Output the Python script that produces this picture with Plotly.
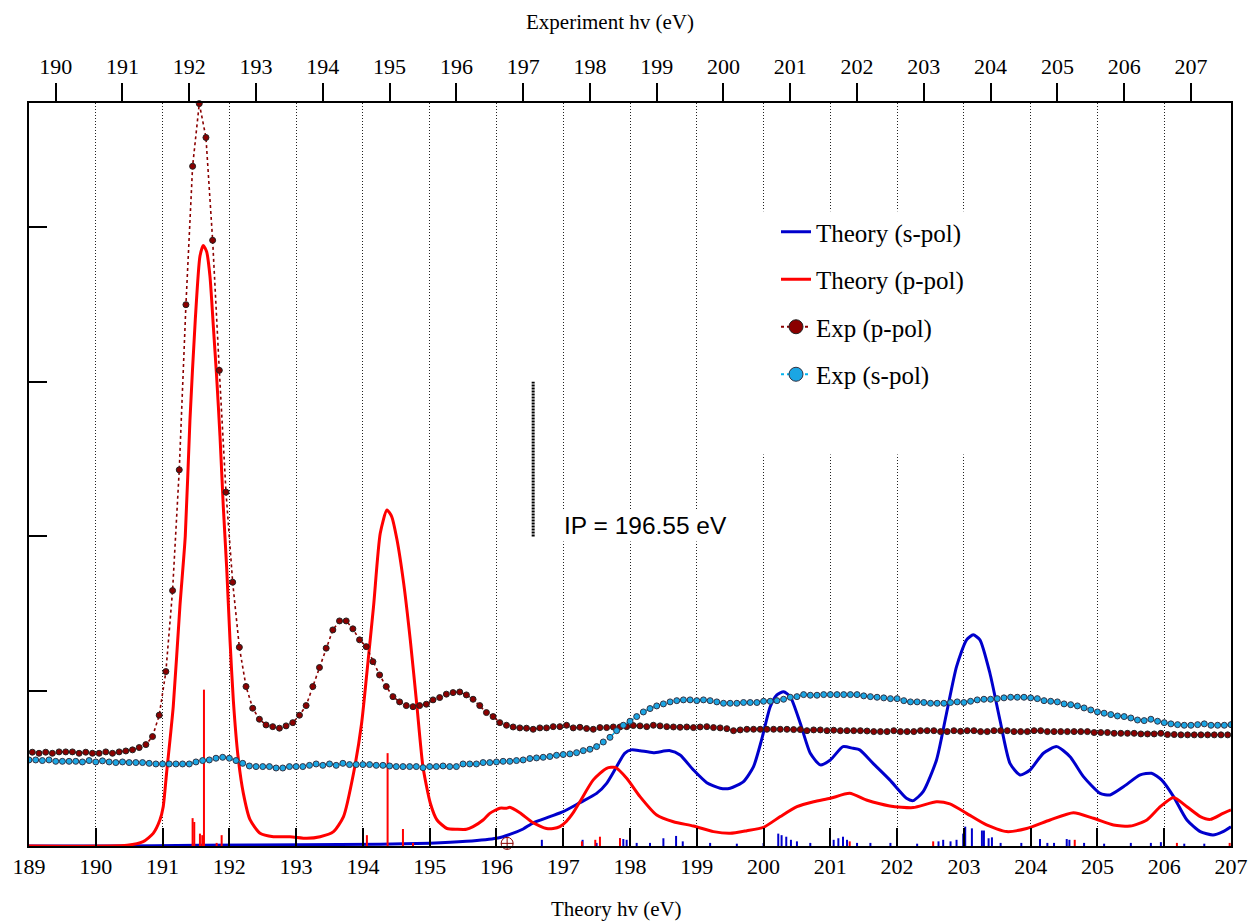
import plotly.graph_objects as go

# ---------------- data ----------------
theory_ticks = list(range(189, 208))
exp_ticks = list(range(190, 208))
EXP_SHIFT = 0.6          # experiment hv = theory hv + shift (top axis)
IP_VALUE = 196.55
IP_LABEL = "IP = 196.55 eV"

theory_s_x = [189.0, 190.17, 191.56, 193.06, 194.26, 195.00, 195.55, 196.00, 196.20, 196.40,
              196.55, 196.80, 197.00, 197.25, 197.50, 197.65, 197.80, 197.92, 198.02, 198.15,
              198.35, 198.60, 198.75, 198.95, 199.15, 199.35, 199.50, 199.70, 199.85, 199.97,
              200.10, 200.20, 200.30, 200.40, 200.55, 200.70, 200.85, 201.00, 201.19, 201.34,
              201.44, 201.64, 201.89, 202.14, 202.24, 202.39, 202.59, 202.74, 202.89, 203.04,
              203.14, 203.24, 203.39, 203.54, 203.69, 203.84, 203.99, 204.19, 204.39, 204.59,
              204.79, 205.04, 205.19, 205.39, 205.64, 205.81, 205.96, 206.14, 206.34, 206.54,
              206.73, 206.88, 207.00]
theory_s_y = [0.0, 0.0, 0.005, 0.008, 0.012, 0.018, 0.03, 0.05, 0.075, 0.11,
              0.15, 0.19, 0.222, 0.28, 0.34, 0.405, 0.513, 0.599, 0.621, 0.616,
              0.603, 0.616, 0.588, 0.491, 0.409, 0.373, 0.373, 0.416, 0.513, 0.685,
              0.900, 0.976, 0.997, 0.965, 0.793, 0.599, 0.524, 0.556, 0.642, 0.631,
              0.621, 0.534, 0.427, 0.308, 0.293, 0.351, 0.556, 0.858, 1.159, 1.332,
              1.364, 1.332, 1.116, 0.814, 0.534, 0.459, 0.491, 0.599, 0.642, 0.577,
              0.448, 0.340, 0.330, 0.383, 0.459, 0.470, 0.427, 0.319, 0.168, 0.093,
              0.071, 0.093, 0.125]

theory_p_x = [189.0, 190.47, 190.71, 190.86, 190.96, 191.01, 191.06, 191.16, 191.26, 191.34,
              191.41, 191.49, 191.56, 191.61, 191.66, 191.71, 191.76, 191.81, 191.86, 191.91,
              191.96, 192.01, 192.06, 192.13, 192.21, 192.31, 192.46, 192.66, 192.91, 193.16,
              193.36, 193.56, 193.71, 193.86, 193.98, 194.06, 194.16, 194.26, 194.36, 194.43,
              194.51, 194.61, 194.71, 194.81, 194.90, 195.01, 195.11, 195.26, 195.41, 195.55,
              195.65, 195.80, 195.90, 196.05, 196.15, 196.20, 196.35, 196.55, 196.75, 196.85,
              196.95, 197.05, 197.15, 197.25, 197.45, 197.65, 197.78, 197.95, 198.15, 198.40,
              198.65, 198.95, 199.25, 199.50, 199.75, 200.00, 200.25, 200.50, 200.75, 201.00,
              201.29, 201.54, 201.89, 202.24, 202.59, 202.79, 203.04, 203.34, 203.64, 203.94,
              204.29, 204.64, 204.94, 205.24, 205.49, 205.74, 205.94, 206.14, 206.34, 206.54,
              206.69, 206.88, 207.00]
theory_p_y = [0.0, 0.005, 0.028, 0.082, 0.168, 0.254, 0.47, 0.90, 1.55, 2.00,
              2.75, 3.40, 3.81, 3.88, 3.84, 3.68, 3.36, 3.03, 2.65, 2.19,
              1.80, 1.33, 0.94, 0.58, 0.34, 0.17, 0.082, 0.06, 0.06, 0.05,
              0.06, 0.093, 0.19, 0.47, 0.79, 1.12, 1.55, 2.02, 2.17, 2.13,
              1.98, 1.70, 1.33, 0.90, 0.51, 0.276, 0.168, 0.113, 0.108, 0.108,
              0.125, 0.168, 0.211, 0.244, 0.244, 0.25, 0.215, 0.15, 0.113, 0.113,
              0.125, 0.160, 0.215, 0.286, 0.427, 0.502, 0.508, 0.438, 0.319, 0.200,
              0.157, 0.129, 0.093, 0.082, 0.099, 0.121, 0.190, 0.254, 0.286, 0.308,
              0.340, 0.297, 0.259, 0.248, 0.286, 0.272, 0.211, 0.136, 0.093, 0.113,
              0.168, 0.215, 0.179, 0.136, 0.129, 0.168, 0.254, 0.314, 0.254, 0.19,
              0.172, 0.211, 0.233]

# experiment spectra, sampled every 0.1 eV on the experiment energy scale
exp_p_start, exp_p_step = 189.65, 0.1
exp_p_y = [0.606, 0.599, 0.606, 0.599, 0.608, 0.608, 0.608, 0.599, 0.606, 0.599,
           0.599, 0.608, 0.599, 0.608, 0.614, 0.621, 0.636, 0.655, 0.707, 0.845,
           1.127, 1.650, 2.430, 3.497, 4.391, 4.796, 4.577, 3.913, 3.073, 2.286,
           1.704, 1.284, 1.030, 0.890, 0.819, 0.782, 0.771, 0.761, 0.776, 0.797,
           0.845, 0.907, 1.030, 1.153, 1.278, 1.396, 1.454, 1.454, 1.403, 1.332,
           1.288, 1.191, 1.105, 1.030, 0.965, 0.931, 0.907, 0.900, 0.907, 0.916,
           0.944, 0.959, 0.981, 0.991, 0.995, 0.976, 0.948, 0.907, 0.862, 0.836,
           0.797, 0.780, 0.769, 0.763, 0.761, 0.754, 0.763, 0.763, 0.771, 0.771,
           0.780, 0.763, 0.767, 0.759, 0.754, 0.765, 0.765, 0.769, 0.769, 0.771,
           0.778, 0.776, 0.771, 0.780, 0.776, 0.771, 0.769, 0.767, 0.769, 0.765,
           0.769, 0.771, 0.765, 0.763, 0.758, 0.745, 0.750, 0.754, 0.754, 0.754,
           0.754, 0.754, 0.754, 0.754, 0.752, 0.752, 0.745, 0.750, 0.750, 0.745,
           0.748, 0.745, 0.745, 0.745, 0.745, 0.743, 0.739, 0.739, 0.739, 0.745,
           0.739, 0.739, 0.739, 0.745, 0.745, 0.745, 0.739, 0.739, 0.745, 0.741,
           0.745, 0.745, 0.739, 0.739, 0.745, 0.745, 0.745, 0.739, 0.739, 0.739,
           0.745, 0.745, 0.739, 0.739, 0.739, 0.739, 0.739, 0.739, 0.739, 0.733,
           0.733, 0.733, 0.728, 0.728, 0.728, 0.728, 0.724, 0.724, 0.724, 0.728,
           0.720, 0.720, 0.718, 0.718, 0.718, 0.718, 0.718, 0.718, 0.718, 0.718]

exp_s_start, exp_s_step = 189.6, 0.1
exp_s_y = [0.556, 0.556, 0.552, 0.556, 0.547, 0.547, 0.547, 0.547, 0.543, 0.552,
           0.543, 0.550, 0.543, 0.539, 0.543, 0.539, 0.539, 0.539, 0.534, 0.530,
           0.530, 0.530, 0.530, 0.530, 0.530, 0.543, 0.552, 0.556, 0.567, 0.573,
           0.567, 0.552, 0.534, 0.517, 0.513, 0.513, 0.513, 0.504, 0.504, 0.513,
           0.513, 0.513, 0.521, 0.530, 0.521, 0.530, 0.521, 0.534, 0.526, 0.526,
           0.526, 0.526, 0.521, 0.521, 0.517, 0.513, 0.513, 0.513, 0.513, 0.506,
           0.513, 0.513, 0.517, 0.513, 0.513, 0.530, 0.530, 0.530, 0.539, 0.539,
           0.543, 0.547, 0.547, 0.552, 0.556, 0.565, 0.569, 0.573, 0.578, 0.586,
           0.591, 0.595, 0.603, 0.616, 0.625, 0.642, 0.672, 0.702, 0.745, 0.780,
           0.806, 0.836, 0.866, 0.888, 0.905, 0.918, 0.931, 0.939, 0.944, 0.944,
           0.939, 0.944, 0.939, 0.931, 0.922, 0.922, 0.922, 0.927, 0.927, 0.927,
           0.935, 0.935, 0.939, 0.948, 0.961, 0.965, 0.978, 0.974, 0.974, 0.978,
           0.978, 0.978, 0.978, 0.978, 0.978, 0.970, 0.965, 0.961, 0.957, 0.952,
           0.952, 0.939, 0.931, 0.931, 0.927, 0.922, 0.922, 0.922, 0.927, 0.931,
           0.927, 0.935, 0.944, 0.948, 0.948, 0.952, 0.957, 0.961, 0.961, 0.961,
           0.957, 0.952, 0.939, 0.935, 0.931, 0.918, 0.913, 0.905, 0.892, 0.879,
           0.866, 0.858, 0.849, 0.840, 0.836, 0.827, 0.814, 0.810, 0.819, 0.806,
           0.797, 0.789, 0.784, 0.780, 0.780, 0.784, 0.789, 0.780, 0.780, 0.780,
           0.784]

# oscillator-strength sticks (theory energy, height)
stick_p_x = [191.45, 191.475, 191.56, 191.595, 191.62, 191.81, 191.885, 194.06, 194.37,
             194.60, 194.75, 197.28, 197.48, 197.55, 197.85, 201.29, 202.54, 204.66,
             206.19, 206.98]
stick_p_h = [0.18, 0.155, 0.08, 0.07, 1.01, 0.02, 0.07, 0.07, 0.60,
             0.11, 0.02, 0.03, 0.04, 0.06, 0.05, 0.03, 0.03, 0.04,
             0.02, 0.02]
stick_s_x = [196.68, 197.29, 197.50, 197.85, 197.90, 197.95, 198.10, 198.30, 198.50, 198.69,
             198.79, 199.20, 199.60, 200.00, 200.22, 200.27, 200.34, 200.41, 200.50, 200.70,
             201.05, 201.12, 201.19, 201.25, 201.40, 201.60, 201.90, 202.30, 202.62, 202.69,
             202.80, 202.89, 202.99, 203.02, 203.12, 203.27, 203.30, 203.37, 203.42, 203.55,
             203.86, 204.14, 204.25, 204.35, 204.54, 204.58, 204.80, 205.10, 205.50, 205.80,
             205.95, 206.30, 206.60]
stick_s_h = [0.04, 0.04, 0.02, 0.05, 0.045, 0.04, 0.02, 0.02, 0.05, 0.065,
             0.03, 0.02, 0.015, 0.02, 0.08, 0.07, 0.06, 0.04, 0.03, 0.02,
             0.04, 0.05, 0.06, 0.04, 0.02, 0.02, 0.02, 0.015, 0.03, 0.04,
             0.03, 0.04, 0.08, 0.125, 0.114, 0.10, 0.10, 0.05, 0.056, 0.02,
             0.02, 0.045, 0.02, 0.02, 0.045, 0.04, 0.02, 0.015, 0.02, 0.02,
             0.025, 0.015, 0.015]

cursor_x, cursor_y = 196.16, 0.017

# ---------------- build ----------------
exp_p_x = [round(exp_p_start + i * exp_p_step, 3) for i in range(len(exp_p_y))]
exp_s_x = [round(exp_s_start + i * exp_s_step, 3) for i in range(len(exp_s_y))]


def sticks(xs, hs):
    sx, sy = [], []
    for x, h in zip(xs, hs):
        sx += [x, x, None]
        sy += [0, h, None]
    return sx, sy


C_PEXP = "#8B0000"
C_SEXP = "#1BA6E4"
C_STH = "#0000CC"
C_PTH = "#FF0000"
SERIF = "Liberation Serif, Times New Roman, serif"
SANS = "Liberation Sans, Arial, sans-serif"

fig = go.Figure()

fig.add_trace(go.Scatter(x=exp_p_x, y=exp_p_y, xaxis="x2", mode="lines+markers",
                         line=dict(color=C_PEXP, width=1.6, dash="dot"),
                         marker=dict(size=6, color=C_PEXP, line=dict(color="#222", width=1)),
                         cliponaxis=False, showlegend=False))
fig.add_trace(go.Scatter(x=exp_s_x, y=exp_s_y, xaxis="x2", mode="lines+markers",
                         line=dict(color="#00B4F0", width=1.6, dash="dot"),
                         marker=dict(size=6, color=C_SEXP, line=dict(color="#334", width=1)),
                         showlegend=False))
fig.add_trace(go.Scatter(x=theory_s_x, y=theory_s_y, mode="lines",
                         line=dict(color=C_STH, width=3, shape="spline", smoothing=0.6),
                         showlegend=False))
fig.add_trace(go.Scatter(x=theory_p_x, y=theory_p_y, mode="lines",
                         line=dict(color=C_PTH, width=3, shape="spline", smoothing=0.6),
                         showlegend=False))
sx, sy = sticks(stick_s_x, stick_s_h)
fig.add_trace(go.Scatter(x=sx, y=sy, mode="lines", line=dict(color=C_STH, width=2),
                         showlegend=False))
sx, sy = sticks(stick_p_x, stick_p_h)
fig.add_trace(go.Scatter(x=sx, y=sy, mode="lines", line=dict(color=C_PTH, width=2),
                         showlegend=False))
fig.add_trace(go.Scatter(x=[cursor_x], y=[cursor_y], mode="markers",
                         marker=dict(symbol="circle-cross-open", size=12, color=C_PEXP,
                                     line=dict(width=1)),
                         cliponaxis=False, showlegend=False))

# legend entries
fig.add_trace(go.Scatter(x=[None], y=[None], mode="lines", name="Theory (s-pol)",
                         line=dict(color=C_STH, width=3), legendgroup="a"))
fig.add_trace(go.Scatter(x=[None], y=[None], mode="lines", name="Theory (p-pol)",
                         line=dict(color=C_PTH, width=3), legendgroup="b"))
fig.add_trace(go.Scatter(x=[None], y=[None], mode="lines+markers", name="Exp (p-pol)",
                         line=dict(color=C_PEXP, width=2, dash="dot"),
                         marker=dict(size=14, color=C_PEXP, line=dict(color="#222", width=1)),
                         legendgroup="c"))
fig.add_trace(go.Scatter(x=[None], y=[None], mode="lines+markers", name="Exp (s-pol)",
                         line=dict(color="#00B4F0", width=2, dash="dot"),
                         marker=dict(size=14, color=C_SEXP, line=dict(color="#334", width=1)),
                         legendgroup="d"))

axis_common = dict(showline=True, linewidth=2, linecolor="black", zeroline=False,
                   tickcolor="black", tickwidth=2, ticklen=18, automargin=False)

fig.update_layout(
    width=1252, height=922,
    margin=dict(l=29, r=21, t=103, b=76, autoexpand=False),
    paper_bgcolor="white", plot_bgcolor="white",
    font=dict(family=SERIF, size=22, color="black"),
    xaxis=dict(range=[189, 207], tickvals=theory_ticks, ticks="inside",
               showgrid=True, gridcolor="#222", gridwidth=1, griddash="1px,2px",
               tickfont=dict(family=SERIF, size=22), **axis_common),
    xaxis2=dict(range=[189 + EXP_SHIFT, 207 + EXP_SHIFT], overlaying="x", side="top",
                tickvals=exp_ticks, ticks="outside", showgrid=False,
                tickfont=dict(family=SERIF, size=22), **axis_common),
    yaxis=dict(range=[0, 4.8], tickvals=[0, 1, 2, 3, 4], ticks="inside",
               showticklabels=False, showgrid=False, mirror=True, **axis_common),
    legend=dict(x=(776 - 29) / 1202, y=(846 - 209) / 743, xanchor="left", yanchor="top",
                bgcolor="rgba(0,0,0,0)", font=dict(family=SERIF, size=25),
                tracegroupgap=12),
    showlegend=True,
)

# white box behind the legend (hides the grid there)
fig.add_shape(type="rect", xref="x", yref="y", x0=199.5, x1=203.55, y0=2.53, y1=4.10,
              fillcolor="white", line=dict(width=0), layer="above")
# ionisation potential marker
fig.add_shape(type="line", xref="x", yref="y", x0=IP_VALUE, x1=IP_VALUE, y0=2.0, y1=3.0,
              line=dict(color="black", width=3, dash="2px,1px"))
fig.add_annotation(x=196.96, y=2.07, xref="x", yref="y", text=IP_LABEL, showarrow=False,
                   xanchor="left", yanchor="middle", bgcolor="white", borderpad=2,
                   font=dict(family=SANS, size=24.5, color="black"))
# axis titles
fig.add_annotation(x=(616 - 29) / 1202, y=(846 - 909) / 743, xref="paper", yref="paper",
                   text="Theory hv (eV)", showarrow=False, xanchor="center", yanchor="middle",
                   font=dict(family=SERIF, size=21))
fig.add_annotation(x=(610 - 29) / 1202, y=(846 - 22) / 743, xref="paper", yref="paper",
                   text="Experiment hv (eV)", showarrow=False, xanchor="center", yanchor="middle",
                   font=dict(family=SERIF, size=21))

fig.write_html("out.html")
